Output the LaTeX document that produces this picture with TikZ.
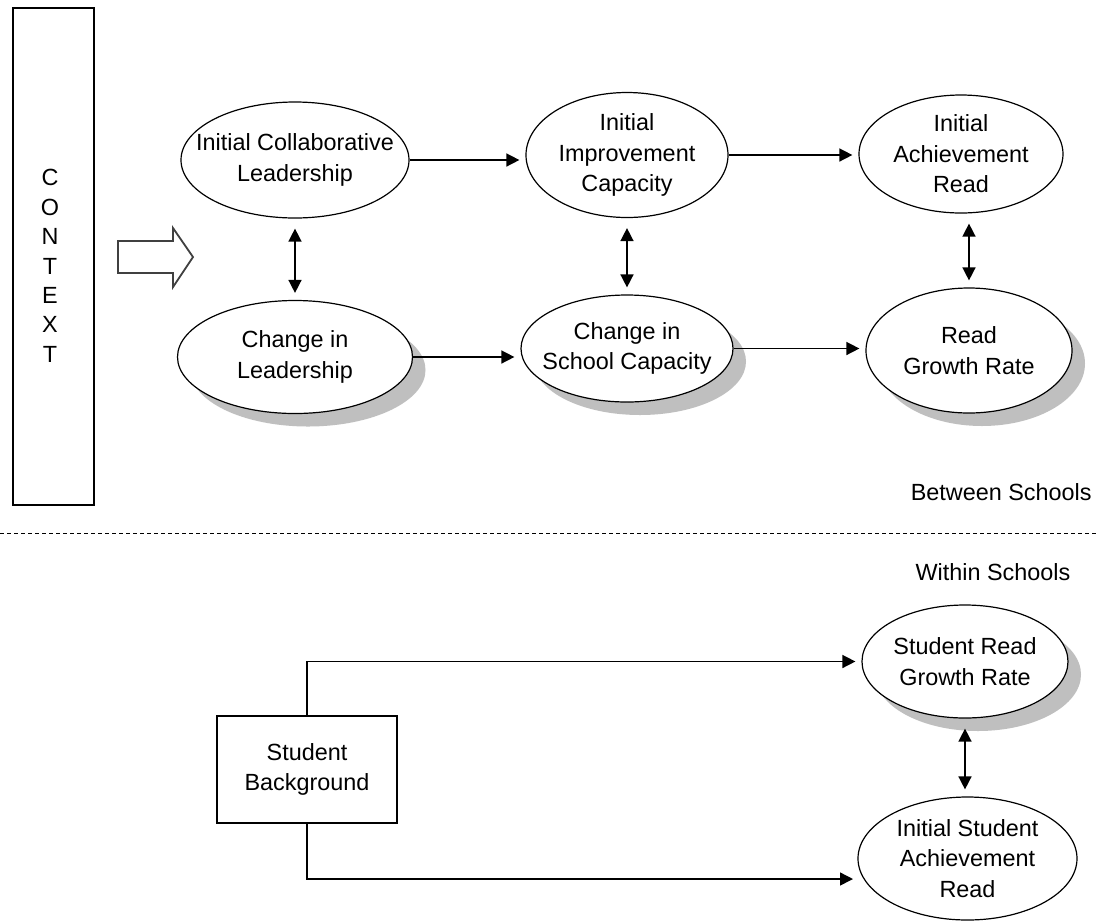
\documentclass[tikz,border=0pt]{standalone}
\usepackage{fontspec}
\setmainfont{Liberation Sans}
\usetikzlibrary{arrows.meta,shapes.geometric,shadows}

\begin{document}
\begin{tikzpicture}[x=0.5pt, y=-0.5pt,
        every node/.style={font=\fontsize{11.7}{15.3}\selectfont},
        every label/.style={align=center},
        oval/.style={ellipse, draw, line width=0.6pt, fill=white, inner sep=0pt},
        shade/.style={drop shadow={shadow xshift=6.5pt, shadow yshift=-6.5pt, fill=black!25, opacity=1}},
        link/.style={line width=0.75pt, -{Triangle[length=6.5pt,width=6.5pt]}, shorten >=3pt},
        both/.style={line width=0.75pt, {Triangle[length=6.5pt,width=6.5pt]}-{Triangle[length=6.5pt,width=6.5pt]}, shorten <=5pt, shorten >=3.5pt}]
        \path[use as bounding box, fill=white] (0,0) rectangle (1099,923);

        % Context column and hollow arrow
        \node[draw, line width=0.6pt, minimum width=40.5pt, minimum height=248.5pt, inner sep=0pt] (context) at (53.5,256.5) {};
        \node[align=center, font=\fontsize{11.7}{14.7}\selectfont] (context text) at (50,266) {C\\O\\N\\T\\E\\X\\T};
        \draw[line width=0.9pt, draw=black!75] (118,241) -- (173,241) -- (173,228) -- (193,257) -- (173,287) -- (173,273) -- (118,273) -- cycle;

        % Between schools
        \node[oval, minimum width=114pt, minimum height=58pt, label={center:{Initial Collaborative\\Leadership}}] (icl) at (295,160) {};
        \node[oval, shade, minimum width=117.5pt, minimum height=56.5pt, label={center:{Change in\\Leadership}}] (cl) at (295,357) {};
        \node[oval, minimum width=101pt, minimum height=62.5pt, label={center:{Initial\\Improvement\\Capacity}}] (iic) at (627,155) {};
        \node[oval, shade, minimum width=106pt, minimum height=53.5pt, label={center:{Change in\\School Capacity}}] (csc) at (627,348.5) {};
        \node[oval, minimum width=102pt, minimum height=59pt, label={center:{Initial\\Achievement\\Read}}] (iar) at (961,154) {};
        \node[oval, shade, minimum width=103pt, minimum height=62.5pt, label={center:{Read\\Growth Rate}}] (rgr) at (969,350.5) {};

        \draw[link] (icl.east) -- (icl.east -| iic.west);
        \draw[link] (iic.east) -- (iic.east -| iar.west);
        \draw[link] (cl.east) -- (cl.east -| csc.west);
        \draw[link] (csc.east) -- (csc.east -| rgr.west);
        \draw[both] (icl.south) -- (cl.north);
        \draw[both] (iic.south) -- (csc.north);
        \draw[both] (rgr.north |- iar.south) -- (rgr.north);

        \node[anchor=east, inner sep=0pt] (between) at (1092,492) {Between Schools};
        \draw[line width=0.5pt, dash pattern=on 2pt off 1.5pt] (0,533) -- (1099,533);
        \node[inner sep=0pt] (within) at (993,572) {Within Schools};

        % Within schools
        \node[draw, line width=0.75pt, minimum width=90pt, minimum height=53.5pt, inner sep=0pt, align=center] (sb) at (307,769.5) {Student\\Background};
        \node[oval, shade, minimum width=103pt, minimum height=56.5pt, label={center:{Student Read\\Growth Rate}}] (srgr) at (965,661.5) {};
        \node[oval, minimum width=109.5pt, minimum height=61.5pt, label={center:{Initial Student\\Achievement\\Read}}] (ira) at (967.5,858.5) {};
        \coordinate (ira in) at (859,879);

        \draw[link] (sb.north) |- (srgr.west);
        \draw[link] (sb.south) |- (ira in);
        \draw[both] (srgr.south) -- (srgr.south |- ira.north);
    \end{tikzpicture}
\end{document}
